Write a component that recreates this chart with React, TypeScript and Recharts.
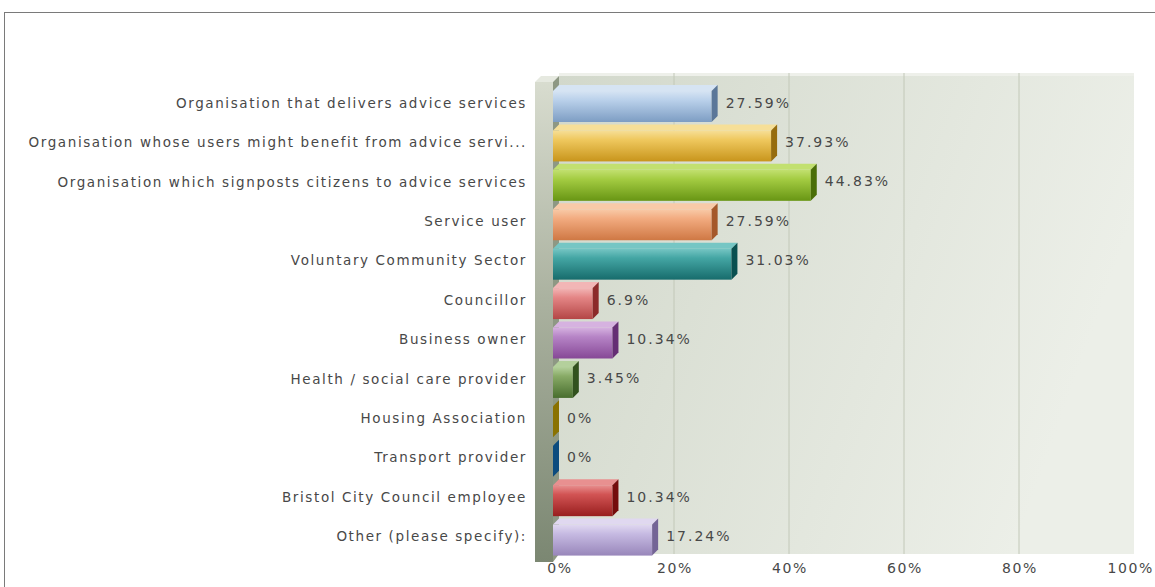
import React from "react";
import { BarChart, Bar, XAxis, YAxis, CartesianGrid, LabelList } from "recharts";

const categories = [
  "Organisation that delivers advice services",
  "Organisation whose users might benefit from advice servi...",
  "Organisation which signposts citizens to advice services",
  "Service user",
  "Voluntary Community Sector",
  "Councillor",
  "Business owner",
  "Health / social care provider",
  "Housing Association",
  "Transport provider",
  "Bristol City Council employee",
  "Other (please specify):",
];

const percentages = [27.59, 37.93, 44.83, 27.59, 31.03, 6.9, 10.34, 3.45, 0, 0, 10.34, 17.24];

const xTicks = [0, 20, 40, 60, 80, 100];

// face colours for each bar: lid = top face, hi/lo = front gradient, side = right face
const palette = [
  { lid: "#d6e4f3", hi: "#b9d0ea", lo: "#7d9dc3", side: "#5b7799" },
  { lid: "#f6df98", hi: "#efc85e", lo: "#c8951c", side: "#966c0e" },
  { lid: "#c2e070", hi: "#a4cc42", lo: "#689614", side: "#4a6e08" },
  { lid: "#f8caa8", hi: "#f2ab80", lo: "#cf7844", side: "#a5582a" },
  { lid: "#76c6c4", hi: "#44a6a4", lo: "#176c6c", side: "#0a5050" },
  { lid: "#f2b6b6", hi: "#e48686", lo: "#b44646", side: "#8c2a2a" },
  { lid: "#d6b2e0", hi: "#b684c6", lo: "#864896", side: "#652e74" },
  { lid: "#b4d09c", hi: "#88aa66", lo: "#486e2e", side: "#32521e" },
  { lid: "#e2c640", hi: "#d0b000", lo: "#a88c00", side: "#8a7200" },
  { lid: "#5aa8dc", hi: "#2a86c4", lo: "#14609a", side: "#0c4c7e" },
  { lid: "#e89090", hi: "#d25454", lo: "#981e1e", side: "#740c0c" },
  { lid: "#e0d8f0", hi: "#c6bae2", lo: "#9886ba", side: "#746496" },
];

const data = categories.map((name, i) => ({ name, value: percentages[i] }));

const D = 6;
const FONT = "'DejaVu Sans', Verdana, sans-serif";
const TEXT = "#484848";

function Walls({ x, y, width, height }: any) {
  return (
    <g>
      <defs>
        <linearGradient id="backWall" x1="0" y1="0" x2="1" y2="0.3">
          <stop offset="0%" stopColor="#d2d8cb" />
          <stop offset="100%" stopColor="#ecefe8" />
        </linearGradient>
        <linearGradient id="leftWall" x1="0" y1="0" x2="0" y2="1">
          <stop offset="0%" stopColor="#d8dccf" />
          <stop offset="45%" stopColor="#abb2a0" />
          <stop offset="100%" stopColor="#7b8772" />
        </linearGradient>
      </defs>
      <rect x={x + D} y={y - 14} width={width} height={height - D + 14} fill="url(#backWall)" />
      <rect x={x + D} y={y - 14} width={width} height={3} fill="#eef0ea" />
      <polygon
        points={`${x - 18},${y - 5} ${x - 18 + D},${y - 5 - D} ${x + D},${y - 5 - D} ${x},${y - 5}`}
        fill="#e6e9e0"
      />
      <rect x={x - 18} y={y - 5} width={18} height={height + 7} fill="url(#leftWall)" />
      <polygon
        points={`${x},${y - 5} ${x + D},${y - 5 - D} ${x + D},${y + height - D} ${x},${y + height + 2}`}
        fill="#8e9884"
      />
    </g>
  );
}

function gridLine(props: any) {
  const { x1, y1, y2, index } = props;
  if (index === 0) {
    return <Walls key="walls" x={props.x} y={props.y} width={props.width} height={props.height} />;
  }
  if (index === xTicks.length - 1) return <g key="last" />;
  return (
    <line key={`g${index}`} x1={x1 + D} x2={x1 + D} y1={y1 - 14} y2={y2 - D} stroke="#c2c8b8" strokeWidth={1} />
  );
}

function Bar3D(props: any) {
  const { x, y, height, index } = props;
  const w = Math.max(props.width || 0, 0);
  const c = palette[index];
  const id = `barFace${index}`;
  return (
    <g>
      <defs>
        <linearGradient id={id} x1="0" y1="0" x2="0" y2="1">
          <stop offset="0%" stopColor={c.lid} />
          <stop offset="30%" stopColor={c.hi} />
          <stop offset="100%" stopColor={c.lo} />
        </linearGradient>
      </defs>
      <polygon points={`${x},${y} ${x + D},${y - D} ${x + w + D},${y - D} ${x + w},${y}`} fill={c.lid} />
      <rect x={x} y={y} width={w} height={height} fill={`url(#${id})`} />
      <polygon
        points={`${x + w},${y} ${x + w + D},${y - D} ${x + w + D},${y + height - D} ${x + w},${y + height}`}
        fill={c.side}
      />
    </g>
  );
}

function CategoryTick({ x, y, payload }: any) {
  return (
    <text
      x={x}
      y={y - 4}
      textAnchor="end"
      dominantBaseline="central"
      fontFamily={FONT}
      fontSize={13.5}
      letterSpacing={1.6}
      fill={TEXT}
    >
      {payload.value}
    </text>
  );
}

function PercentTick({ x, y, payload, index }: any) {
  // the last label sits against the right edge, as in the original
  const last = index === xTicks.length - 1;
  return (
    <text
      x={last ? x + 26 : x + 7}
      y={y + 8}
      textAnchor={last ? "end" : "middle"}
      dominantBaseline="central"
      fontFamily={FONT}
      fontSize={14}
      letterSpacing={1.6}
      fill={TEXT}
    >
      {payload.value}%
    </text>
  );
}

function ValueLabel(props: any) {
  const { x, y, width, height, value } = props;
  return (
    <text
      x={x + Math.max(width || 0, 0) + 14}
      y={y + height / 2 - 4}
      dominantBaseline="central"
      fontFamily={FONT}
      fontSize={14}
      letterSpacing={2}
      fill={TEXT}
    >
      {value}%
    </text>
  );
}

export default function App() {
  return (
    <div
      style={{
        position: "absolute",
        left: 4,
        top: 12,
        width: 1151,
        height: 575,
        borderTop: "1px solid #7a7a7a",
        borderLeft: "1px solid #7a7a7a",
        background: "#fff",
      }}
    >
      <BarChart
        width={1150}
        height={574}
        data={data}
        layout="vertical"
        margin={{ top: 74, right: 27, bottom: 3, left: 0 }}
      >
        <CartesianGrid horizontal={false} vertical={gridLine} />
        <XAxis
          type="number"
          domain={[0, 100]}
          ticks={xTicks}
          height={24}
          axisLine={false}
          tickLine={false}
          tickSize={0}
          tickMargin={0}
          tick={<PercentTick />}
        />
        <YAxis
          type="category"
          dataKey="name"
          width={548}
          axisLine={false}
          tickLine={false}
          tickSize={6}
          tickMargin={20}
          interval={0}
          tick={<CategoryTick />}
        />
        <Bar dataKey="value" barSize={31} shape={Bar3D} isAnimationActive={false}>
          <LabelList dataKey="value" content={ValueLabel} />
        </Bar>
      </BarChart>
    </div>
  );
}
